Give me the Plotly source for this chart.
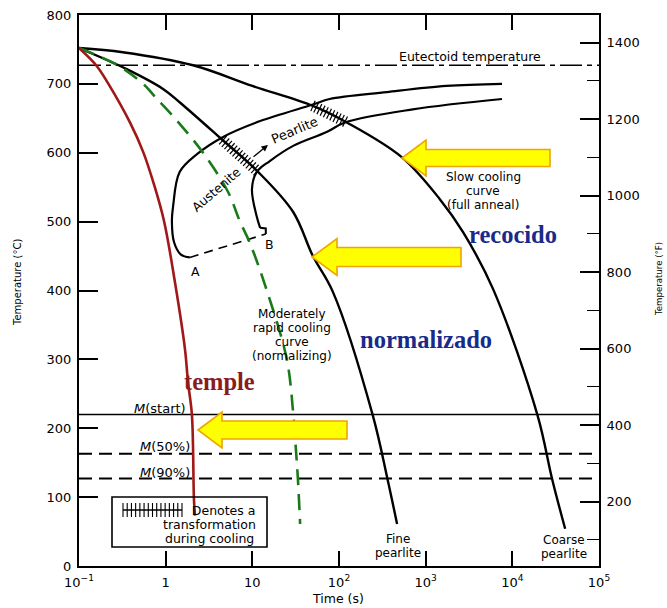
import numpy as np
import plotly.graph_objects as go

# ---------------- data ----------------
# quench (temple) cooling curve
red_t = [0.1, 0.16, 0.216, 0.387, 0.547, 0.733, 0.957, 1.28, 1.67, 1.81, 2.01, 2.12, 2.18]
red_T = [752, 726, 701, 644, 602, 554, 501, 412, 315, 267, 219, 97, 73]

# moderately rapid cooling curve (normalizing, green dashed)
green_t = [0.1, 0.28, 0.55, 0.745, 1.28, 2.7, 5.25, 7.2, 9.3, 14.7, 25, 29.7, 32, 33.5, 35.6]
green_T = [752, 727, 700, 682, 650, 600, 543, 500, 470, 400, 300, 220, 165, 128, 61]

# fine pearlite cooling curve
fine_t = [0.1, 0.36, 0.95, 1.46, 4.4, 11.5, 29.6, 50, 85, 245, 363, 468]
fine_T = [752, 721, 692, 673, 620, 573, 514, 450, 398, 219, 126, 61]

# coarse pearlite (slow cooling, full anneal)
coarse_t = [0.1, 0.32, 2.07, 10, 50, 123, 525, 1450, 2690, 6000, 19500, 28800, 40700]
coarse_T = [752, 746, 727, 697, 668, 644, 594, 533, 485, 402, 219, 126, 54]

# transformation start curve (outer, ends at A)
start_t = [1.9, 1.5, 1.25, 1.18, 1.22, 1.45, 2.3, 4.6, 12.3, 50, 78, 355, 1740, 7600]
start_T = [448, 452, 470, 500, 523, 572, 598, 623, 646, 670, 678, 688, 697, 700]

# transformation finish curve (inner, ends at B)
finish_t = [12.3, 11.2, 9.9, 11.2, 15.9, 29.6, 72, 117, 710, 7600]
finish_T = [491, 508, 547, 572, 588, 610, 630, 644, 663, 678]
corner_B_t = [12.3, 14.3, 14.3]
corner_B_T = [491, 490, 482]

# A-B dashed line
ab_t = [1.9, 14.3]
ab_T = [448, 482]

# horizontal reference temperatures (°C)
eutectoid_T = 727
m_start_T = 220
m50_T = 163
m90_T = 127

# transformation intervals along cooling curves (log10 t range)
hatch_fine_range = [0.66, 1.06]
hatch_coarse_range = [1.70, 2.07]

x_tickvals = [0.1, 1, 10, 100, 1000, 10000, 100000]
x_ticktext = ["10<sup>−1</sup>", "1", "10", "10<sup>2</sup>", "10<sup>3</sup>", "10<sup>4</sup>", "10<sup>5</sup>"]
yC_ticks = [0, 100, 200, 300, 400, 500, 600, 700, 800]
yF_ticks = [200, 400, 600, 800, 1000, 1200, 1400]

# ---------------- layout geometry ----------------
W, H = 667, 608
L, R, T, B = 79, 68, 15, 42
PW, PH = W - L - R, H - T - B
FONT = "DejaVu Sans, Liberation Sans, sans-serif"
SERIF = "Liberation Serif, DejaVu Serif, serif"


def px(x, y):
    return (x - L) / PW, (H - B - y) / PH


fig = go.Figure()

X_END = [0.1, 1e5]


def hline(Tval, dash, width):
    fig.add_trace(go.Scatter(x=X_END, y=[Tval, Tval], mode="lines",
                             line=dict(color="black", width=width, dash=dash),
                             hoverinfo="skip"))


hline(eutectoid_T, "22px,5px,5px,5px", 1.4)
hline(m_start_T, "solid", 1.4)
hline(m50_T, "13px,7px", 2)
hline(m90_T, "13px,7px", 2)

# C curves
fig.add_trace(go.Scatter(x=start_t, y=start_T, mode="lines",
                         line=dict(color="black", width=2.2, shape="spline", smoothing=1.0)))
fig.add_trace(go.Scatter(x=finish_t, y=finish_T, mode="lines",
                         line=dict(color="black", width=2.2, shape="spline", smoothing=1.0)))
fig.add_trace(go.Scatter(x=corner_B_t, y=corner_B_T, mode="lines",
                         line=dict(color="black", width=2)))
fig.add_trace(go.Scatter(x=ab_t, y=ab_T, mode="lines",
                         line=dict(color="black", width=1.6, dash="9px,6px")))

# cooling curves
fig.add_trace(go.Scatter(x=fine_t, y=fine_T, mode="lines",
                         line=dict(color="black", width=2.4, shape="spline", smoothing=1.0)))
fig.add_trace(go.Scatter(x=coarse_t, y=coarse_T, mode="lines",
                         line=dict(color="black", width=2.4, shape="spline", smoothing=1.0)))
fig.add_trace(go.Scatter(x=green_t, y=green_T, mode="lines",
                         line=dict(color="#1a7a1a", width=2.6, dash="16px,9px", shape="spline", smoothing=1.0)))
fig.add_trace(go.Scatter(x=red_t, y=red_T, mode="lines",
                         line=dict(color="#a01818", width=2.6, shape="spline", smoothing=1.0)))

# hatch marks (transformation during cooling)
PX_PER_DEC = PW / 6.0
PX_PER_DEG = PH / 800.0


def hatches(tarr, Tarr, lrange, n):
    lt = np.log10(tarr)
    order = np.argsort(lt)
    lt_s = lt[order]
    T_s = np.asarray(Tarr, dtype=float)[order]
    pos = np.linspace(lrange[0], lrange[1], n)
    Ts = np.interp(pos, lt_s, T_s)
    d = 0.01
    dT = np.interp(pos + d, lt_s, T_s) - np.interp(pos - d, lt_s, T_s)
    ang = np.degrees(np.arctan2(-dT * PX_PER_DEG, 2 * d * PX_PER_DEC))
    return 10 ** pos, Ts, ang


for rng, tt, TT, n in [(hatch_fine_range, fine_t, fine_T, 14),
                       (hatch_coarse_range, coarse_t, coarse_T, 11)]:
    hx, hy, ha = hatches(np.array(tt, dtype=float), TT, rng, n)
    fig.add_trace(go.Scatter(x=hx, y=hy, mode="markers",
                             marker=dict(symbol="line-ns", size=8, angle=list(ha),
                                         line=dict(color="black", width=1.2))))

# legend sample hatch
leg_lx = np.linspace(np.log10(0.1) + (123 - L) / PX_PER_DEC, np.log10(0.1) + (182 - L) / PX_PER_DEC, 15)
leg_T = (H - B - 510) / PX_PER_DEG
fig.add_trace(go.Scatter(x=10 ** leg_lx, y=[leg_T] * len(leg_lx), mode="lines+markers",
                         line=dict(color="black", width=1.3),
                         marker=dict(symbol="line-ns", size=10, line=dict(color="black", width=1.1))))

# dummy trace for right axis
fig.add_trace(go.Scatter(x=[0.1], y=[32], yaxis="y2", mode="markers",
                         marker=dict(opacity=0), hoverinfo="skip"))

shapes = []
# legend box
x0, y0 = px(112, 497)
x1, y1 = px(267, 547)
shapes.append(dict(type="rect", xref="paper", yref="paper", x0=x0, y0=y1, x1=x1, y1=y0,
                   line=dict(color="black", width=1.6), fillcolor="rgba(0,0,0,0)"))


def arrow(tip_x, cy, head_x, hh, bh, end_x):
    pts = [(tip_x, cy), (head_x, cy - hh), (head_x, cy - bh), (end_x, cy - bh),
           (end_x, cy + bh), (head_x, cy + bh), (head_x, cy + hh)]
    p = [px(a, b) for a, b in pts]
    path = "M " + " L ".join(f"{a:.5f},{b:.5f}" for a, b in p) + " Z"
    return dict(type="path", xref="paper", yref="paper", path=path,
                fillcolor="#ffff00", line=dict(color="#eea500", width=1.6))


shapes.append(arrow(402, 158, 426, 18, 8.5, 550))
shapes.append(arrow(312, 257, 337, 18.5, 9.5, 461))
shapes.append(arrow(198, 430, 222, 18, 9, 347))

ann = []


def text(x, y, s, size=12, font=FONT, color="black", angle=0, xanchor="center"):
    a, b = px(x, y)
    ann.append(dict(x=a, y=b, xref="paper", yref="paper", text=s, showarrow=False,
                    font=dict(family=font, size=size, color=color), textangle=angle,
                    xanchor=xanchor, yanchor="middle", borderpad=0))


def lines(x, ys, strs, size=12):
    for y, s in zip(ys, strs):
        text(x, y, s, size)


text(470, 56, "Eutectoid temperature", 12.5)
lines(483, [177, 191, 205], ["Slow cooling", "curve", "(full anneal)"])
text(513, 235, "<b>recocido</b>", 24.5, SERIF, "#1a2a8a")
lines(292, [314, 328, 342, 356], ["Moderately", "rapid cooling", "curve", "(normalizing)"])
text(426, 339, "<b>normalizado</b>", 24.5, SERIF, "#1a2a8a")
text(219, 381, "<b>temple</b>", 24.5, SERIF, "#8b1c1c")
text(160, 408, "<i>M</i>(start)", 13)
text(165, 446, "<i>M</i>(50%)", 13)
text(165, 472, "<i>M</i>(90%)", 13)
lines(398, [539, 553], ["Fine", "pearlite"])
lines(564, [540, 554], ["Coarse", "pearlite"])
text(195, 271, "A", 12.5)
text(269, 245, "B", 12.5)
text(294, 130, "Pearlite", 13, angle=-23)
text(216, 189, "Austenite", 12.5, angle=-41)
lines(209, [510, 524, 538], ["       Denotes a", "transformation", "during cooling"], 12.5)
text(338, 598, "Time (s)", 12.5)
text(17, 283, "Temperature (°C)", 10, angle=-90)
text(659, 279, "Temperature (°F)", 8.6, angle=-90)

# small arrow in band
a1 = px(268, 145)
ann.append(dict(x=a1[0], y=a1[1], ax=-16, ay=13, xref="paper", yref="paper",
                axref="pixel", ayref="pixel", text="", showarrow=True,
                arrowhead=2, arrowsize=1, arrowwidth=1.3, arrowcolor="black"))

fig.update_layout(
    width=W, height=H,
    margin=dict(l=L, r=R, t=T, b=B, pad=0),
    paper_bgcolor="white", plot_bgcolor="white",
    showlegend=False,
    font=dict(family=FONT, size=13, color="black"),
    shapes=shapes, annotations=ann,
    xaxis=dict(type="log", range=[-1, 5], tickvals=x_tickvals, ticktext=x_ticktext,
               ticks="inside", ticklen=15, tickwidth=1.5, tickcolor="black",
               showline=True, linewidth=2, linecolor="black", mirror="ticks",
               showgrid=False, zeroline=False, automargin=False,
               tickfont=dict(size=13), ticklabelstandoff=3),
    yaxis=dict(range=[0, 800], tickvals=yC_ticks, ticks="inside", ticklen=19,
               tickwidth=1.5, tickcolor="black", showline=True, linewidth=2,
               linecolor="black", showgrid=False, zeroline=False, automargin=False,
               tickfont=dict(size=13), ticklabelstandoff=3),
    yaxis2=dict(overlaying="y", side="right", range=[32, 1472], tickvals=yF_ticks,
                ticks="inside", ticklen=19, tickwidth=1.5, tickcolor="black",
                showline=True, linewidth=2, linecolor="black", showgrid=False,
                zeroline=False, automargin=False, tickfont=dict(size=13),
                ticklabelstandoff=3,
                minor=dict(dtick=100, tick0=0, ticks="inside", ticklen=12,
                           tickwidth=1.3, tickcolor="black")),
)

fig.write_html("out.html", config={"displayModeBar": False},
               post_script="document.body.style.margin='0';document.body.style.padding='0';")
